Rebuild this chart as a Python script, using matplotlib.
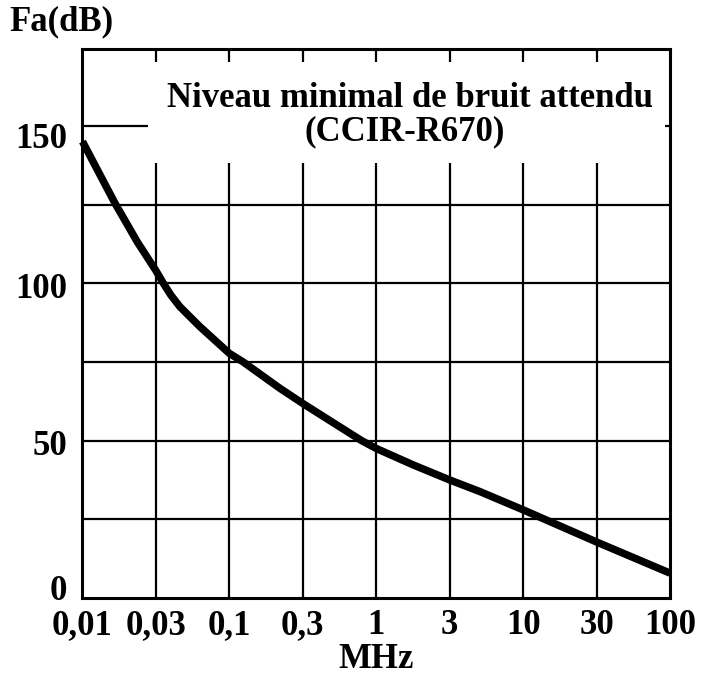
"""
Niveau minimal de bruit attendu (CCIR-R670) — Fa(dB) vs fréquence (MHz).
"""

import matplotlib

matplotlib.use("Agg")
import matplotlib.pyplot as plt
from matplotlib.patches import Rectangle
from matplotlib.transforms import ScaledTranslation

# curve (MHz, dB)
freq_mhz = [0.01, 0.0166, 0.0237, 0.0316, 0.0355, 0.04, 0.0461, 0.063, 0.1,
            0.124, 0.221, 0.316, 0.794, 1.0, 1.78, 3.16, 5.08, 10.0, 31.6, 100.0]
fa_db = [145.0, 125.5, 113.0, 104.0, 100.0, 96.2, 92.5, 86.2, 77.7,
         75.0, 66.6, 61.8, 50.0, 47.5, 42.3, 37.5, 33.8, 28.0, 17.8, 7.9]

x_ticks = [0.01, 0.0316, 0.1, 0.316, 1.0, 3.16, 10.0, 31.6, 100.0]
x_labels = ["0,01", "0,03", "0,1", "0,3", "1", "3", "10", "30", "100"]
y_ticks = [0, 50, 100, 150]
y_grid = [25, 50, 75, 100, 125, 150]

FONT = "Liberation Serif"
FS = 25

fig = plt.figure(figsize=(7.02, 6.75), dpi=100)
ax = fig.add_axes([0.1175, 0.1141, 0.8369, 0.8133])
ax.set_xscale("log")
ax.set_xlim(0.01, 100)
ax.set_ylim(0, 174.4)

# grid
for xv in x_ticks[1:-1]:
    ax.axvline(xv, color="black", lw=1.6, zorder=1)
for yv in y_grid:
    ax.axhline(yv, color="black", lw=1.6, zorder=1)

# white title box hiding the grid
ax.add_patch(Rectangle((0.1115, 0.792), 0.88, 0.184, transform=ax.transAxes,
                       facecolor="white", edgecolor="none", zorder=2))
ax.text(0.558, 0.91, "Niveau minimal de bruit attendu", transform=ax.transAxes,
        ha="center", va="center", fontsize=FS, fontweight="bold", family=FONT, zorder=3)
ax.text(0.548, 0.85, "(CCIR-R670)", transform=ax.transAxes,
        ha="center", va="center", fontsize=FS, fontweight="bold", family=FONT, zorder=3)

ax.plot(freq_mhz, fa_db, color="black", lw=5.4, solid_capstyle="butt",
        solid_joinstyle="round", zorder=4, clip_on=False)

for s in ax.spines.values():
    s.set_linewidth(2.2)
    s.set_zorder(5)

ax.set_xticks(x_ticks)
ax.set_xticklabels(x_labels)
ax.minorticks_off()
ax.set_yticks(y_ticks)
ax.set_yticklabels([str(v) for v in y_ticks])
ax.tick_params(axis="x", length=0, pad=8)
ax.tick_params(axis="y", length=0, pad=11)
for lab in ax.get_xticklabels() + ax.get_yticklabels():
    lab.set_fontsize(FS)
    lab.set_fontweight("bold")
    lab.set_family(FONT)

# nudge the end labels the way the original does
offsets = {"0": 0.1, "150": -0.1}
for lab in ax.get_yticklabels():
    dy = offsets.get(lab.get_text(), -0.02)
    lab.set_transform(lab.get_transform() + ScaledTranslation(0, dy, fig.dpi_scale_trans))

fig.text(0.014, 0.967, "Fa(dB)", ha="left", va="center", fontsize=FS,
         fontweight="bold", family=FONT)
fig.text(0.536, 0.023, "MHz", ha="center", va="center", fontsize=FS,
         fontweight="bold", family=FONT)

fig.savefig("out.png", dpi=100, facecolor="white")
